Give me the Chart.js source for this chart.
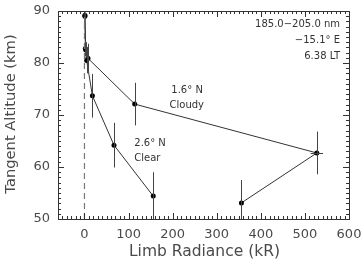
<!DOCTYPE html>
<html><head><meta charset="utf-8">
<script src="https://cdn.jsdelivr.net/npm/chart.js@4.4.1/dist/chart.umd.min.js"></script>
<style>html,body{margin:0;padding:0;background:#fff}#wrap{width:362px;height:261px}</style>
</head><body><div id="wrap"><canvas id="c" width="362" height="261"></canvas></div>
<script>
// Data
const cloudyX    = [1, 3, 8, 114, 527, 356];
const cloudyY    = [89.2, 82.5, 80.9, 72.1, 62.7, 53.1];
const cloudyYErr = [0.5, 1.5, 2.8, 4.1, 4.1, 4.4];
const cloudyXErr = [0, 0, 0, 0, 14, 0];
const clearX     = [1, 2, 5, 18, 67, 156];
const clearY     = [89.0, 82.8, 80.5, 73.7, 64.2, 54.4];
const clearYErr  = [0.5, 1.5, 2.5, 4.2, 4.3, 4.6];
const clearXErr  = [0, 0, 0, 0, 0, 0];
const xTickLabels = [0, 100, 200, 300, 400, 500, 600];
const yTickLabels = [50, 60, 70, 80, 90];
const xTitle = 'Limb Radiance (kR)';
const yTitle = 'Tangent Altitude (km)';
const infoLines = ['185.0\u2212205.0 nm', '\u221215.1\u00b0 E', '6.38 LT'];
const cloudyLabel = ['1.6\u00b0 N', 'Cloudy'];
const clearLabel = ['2.6\u00b0 N', 'Clear'];

const FONT = '"DejaVu Sans", sans-serif';
const INK = '#333';
const TXT = '#4a4a4a';

const pts = (xs, ys) => xs.map((x, i) => ({x, y: ys[i]}));

const frame = {
  id: 'frame',
  afterDatasetsDraw(chart) {
    const {ctx, chartArea: a, scales: {x, y}} = chart;
    ctx.save();
    // error bars
    ctx.strokeStyle = '#444';
    ctx.lineWidth = 1;
    const bars = [[cloudyX, cloudyY, cloudyYErr, cloudyXErr], [clearX, clearY, clearYErr, clearXErr]];
    ctx.beginPath();
    ctx.rect(a.left, a.top, a.right - a.left, a.bottom - a.top);
    ctx.clip();
    bars.forEach(([xs, ys, ye, xe]) => {
      xs.forEach((xv, i) => {
        const px = Math.round(x.getPixelForValue(xv)) + 0.5;
        const py = Math.round(y.getPixelForValue(ys[i])) + 0.5;
        if (ye[i] > 0) {
          ctx.beginPath();
          ctx.moveTo(px, y.getPixelForValue(ys[i] + ye[i]));
          ctx.lineTo(px, y.getPixelForValue(ys[i] - ye[i]));
          ctx.stroke();
        }
        if (xe[i] > 0) {
          ctx.beginPath();
          ctx.moveTo(x.getPixelForValue(xv - xe[i]), py);
          ctx.lineTo(x.getPixelForValue(xv + xe[i]), py);
          ctx.stroke();
        }
      });
    });
    ctx.restore();
    ctx.save();
    // box
    ctx.strokeStyle = INK;
    ctx.lineWidth = 1;
    ctx.strokeRect(Math.round(a.left) + 0.5, Math.round(a.top) + 0.5, Math.round(a.right - a.left), Math.round(a.bottom - a.top));
    // ticks
    ctx.beginPath();
    for (let v = -60; v <= 600; v += 10) {
      const px = Math.round(x.getPixelForValue(v)) + 0.5;
      const len = v % 100 === 0 ? 6 : 3;
      ctx.moveTo(px, a.bottom); ctx.lineTo(px, a.bottom - len);
      ctx.moveTo(px, a.top); ctx.lineTo(px, a.top + len);
    }
    for (let v = 50; v <= 90; v += 1) {
      const py = Math.round(y.getPixelForValue(v)) + 0.5;
      const len = v % 10 === 0 ? 6 : 3;
      ctx.moveTo(a.left, py); ctx.lineTo(a.left + len, py);
      ctx.moveTo(a.right, py); ctx.lineTo(a.right - len, py);
    }
    ctx.stroke();
    // tick labels
    ctx.fillStyle = TXT;
    ctx.font = '13px ' + FONT;
    ctx.textBaseline = 'middle';
    ctx.textAlign = 'center';
    xTickLabels.forEach(v => ctx.fillText(String(v), x.getPixelForValue(v), a.bottom + 16));
    ctx.textAlign = 'right';
    yTickLabels.forEach(v => ctx.fillText(String(v), a.left - 8, y.getPixelForValue(v)));
    // axis titles
    ctx.textAlign = 'center';
    ctx.font = '15.5px ' + FONT;
    ctx.fillText(xTitle, (a.left + a.right) / 2 + 1, a.bottom + 33);
    ctx.save();
    ctx.translate(11, (a.top + a.bottom) / 2 - 1);
    ctx.rotate(-Math.PI / 2);
    ctx.font = '14.7px ' + FONT;
    ctx.fillText(yTitle, 0, 0);
    ctx.restore();
    // annotations
    ctx.fillStyle = INK;
    ctx.font = '10px ' + FONT;
    ctx.textAlign = 'right';
    infoLines.forEach((t, i) => ctx.fillText(t, a.right - 9, a.top + 13 + i * 16));
    ctx.textAlign = 'left';
    ctx.fillText(cloudyLabel[0], x.getPixelForValue(197), y.getPixelForValue(74.8));
    ctx.fillText(cloudyLabel[1], x.getPixelForValue(193), y.getPixelForValue(71.9));
    ctx.fillText(clearLabel[0], x.getPixelForValue(113), y.getPixelForValue(64.6));
    ctx.fillText(clearLabel[1], x.getPixelForValue(113), y.getPixelForValue(61.7));
    ctx.restore();
  }
};

new Chart(document.getElementById('c'), {
  type: 'scatter',
  data: {
    datasets: [
      {data: [{x: 0, y: 50}, {x: 0, y: 90}], showLine: true, borderColor: '#777', borderWidth: 1.2, borderDash: [6, 4], pointRadius: 0},
      {data: pts(cloudyX, cloudyY), showLine: true, borderColor: '#333', borderWidth: 1, pointRadius: 2.5, pointBackgroundColor: '#000', pointBorderColor: '#000', pointBorderWidth: 0},
      {data: pts(clearX, clearY), showLine: true, borderColor: '#333', borderWidth: 1, pointRadius: 2.5, pointBackgroundColor: '#000', pointBorderColor: '#000', pointBorderWidth: 0}
    ]
  },
  options: {
    responsive: false,
    animation: false,
    layout: {padding: {top: 11, right: 13, left: 0, bottom: 0}},
    plugins: {legend: {display: false}, tooltip: {enabled: false}},
    scales: {
      x: {
        type: 'linear', min: -60, max: 600,
        grid: {display: false}, border: {display: false},
        ticks: {display: false},
        afterFit: s => { s.height = 42; }
      },
      y: {
        type: 'linear', min: 50, max: 90,
        grid: {display: false}, border: {display: false},
        ticks: {display: false},
        afterFit: s => { s.width = 58; }
      }
    }
  },
  plugins: [frame]
});
</script></body></html>
